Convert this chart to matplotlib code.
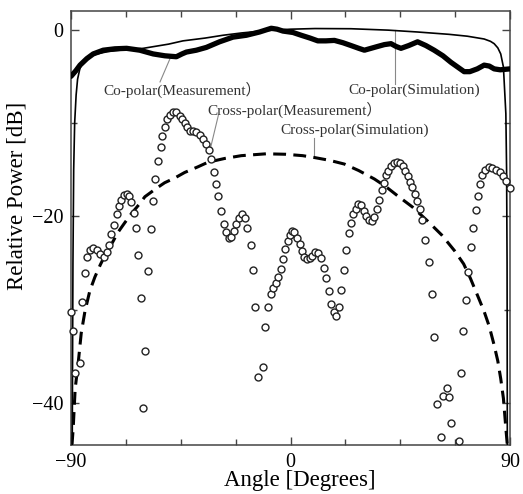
import numpy as np
import matplotlib
matplotlib.use("Agg")
import matplotlib.pyplot as plt
from matplotlib.ticker import FixedLocator

plt.rcParams['font.family'] = ['Liberation Serif', 'DejaVu Serif']
plt.rcParams['axes.unicode_minus'] = True

# ---------------- data ----------------
# Cross-polar (Measurement): angle [deg], relative power [dB]
xm_angle = [-90.0, -89.2, -88.4, -86.3, -85.4, -84.3, -83.3, -82.2, -80.9, -79.5,
            -78.2, -76.5, -75.4, -74.3, -73.4, -72.3, -71.3, -70.4, -69.3, -68.2,
            -67.2, -66.2, -65.2, -64.2, -63.4, -62.5, -61.4, -60.3, -59.5, -58.4,
            -57.3, -56.3, -55.4, -54.3, -53.2, -52.5, -51.6, -50.6, -49.5, -48.2,
            -46.8, -45.4, -44.5, -43.4, -42.3, -41.3, -40.0, -38.6, -37.2, -35.9,
            -34.5, -33.4, -32.4, -31.4, -30.4, -29.6, -28.4, -27.4, -26.6, -25.4,
            -24.3, -23.3, -22.2, -21.2, -19.8, -18.8, -17.7, -16.4, -15.3, -14.4,
            -13.4, -11.3, -10.3, -9.2, -8.2, -7.2, -6.1, -5.2, -4.1, -3.2,
            -2.2, -1.2, -0.2, 0.6, 1.6, 2.7, 3.7, 4.6, 5.7, 6.8,
            7.8, 8.9, 10.1, 11.2, 12.6, 13.6, 14.6, 15.7, 16.7, 17.7,
            18.7, 19.9, 20.8, 21.8, 22.8, 23.9, 24.8, 25.8, 26.9, 27.8,
            28.9, 30.0, 31.0, 32.3, 33.3, 34.4, 35.5, 36.4, 37.4, 38.2,
            39.2, 40.1, 41.2, 42.4, 43.8, 45.0, 46.0, 47.0, 48.0, 49.0,
            50.0, 51.0, 52.0, 53.0, 54.0, 55.0, 56.6, 58.0, 58.8, 60.0,
            61.9, 62.6, 64.0, 65.1, 65.7, 68.9, 69.8, 70.8, 71.9, 72.8,
            73.9, 74.8, 75.9, 76.8, 77.6, 78.7, 79.8, 81.2, 82.8, 84.4,
            85.8, 87.2, 88.5, 90.0]
xm_db = [-30.2, -32.3, -36.8, -35.7, -29.2, -26.1, -24.4, -23.6, -23.4, -23.6,
         -24.0, -24.4, -23.8, -23.1, -21.9, -20.9, -19.8, -18.9, -18.2, -17.7,
         -17.6, -17.8, -18.5, -19.6, -21.3, -24.1, -28.7, -40.5, -34.4, -25.9,
         -21.4, -18.4, -16.0, -14.1, -12.6, -11.4, -10.4, -9.6, -9.1, -8.8,
         -8.8, -9.2, -9.6, -10.0, -10.4, -10.9, -10.9, -11.0, -11.3, -11.7,
         -12.2, -12.9, -13.9, -15.2, -16.5, -17.8, -19.4, -20.8, -21.7, -22.3,
         -22.2, -21.6, -20.8, -20.2, -19.8, -20.2, -21.3, -23.1, -25.7, -29.7,
         -37.2, -36.1, -31.9, -29.7, -28.3, -27.7, -27.1, -26.5, -25.6, -24.6,
         -23.5, -22.6, -22.0, -21.6, -21.7, -22.3, -23.0, -23.7, -24.4, -24.6,
         -24.5, -24.2, -23.8, -23.9, -24.5, -25.5, -26.6, -28.0, -29.4, -30.3,
         -30.7, -29.7, -27.9, -25.7, -23.6, -21.8, -20.7, -19.8, -19.2, -18.7,
         -18.8, -19.4, -20.0, -20.4, -20.5, -20.1, -19.2, -18.2, -17.2, -16.4,
         -15.6, -15.1, -14.6, -14.3, -14.2, -14.3, -14.6, -15.1, -15.7, -16.3,
         -16.9, -17.6, -18.4, -19.2, -20.4, -22.5, -24.9, -28.3, -32.9, -40.1,
         -43.6, -39.3, -38.4, -39.4, -42.1, -44.1, -36.8, -32.3, -29.0, -26.0,
         -23.3, -21.2, -19.3, -17.8, -16.5, -15.6, -15.0, -14.7, -14.8, -15.0,
         -15.3, -15.7, -16.2, -17.0]

# Cross-polar (Simulation)
xs_angle = [-89.6, -89.1, -88.3, -87.0, -85.8, -84.3, -82.3, -80.2, -78.0, -76.1,
            -73.0, -70.7, -68.0, -65.2, -62.0, -59.7, -55.0, -51.6, -47.5, -43.4,
            -38.0, -33.8, -27.0, -20.2, -10.0, -2.0, 5.0, 9.8, 16.0, 22.1,
            28.0, 34.4, 39.0, 43.9, 50.0, 56.2, 62.0, 67.3, 71.0, 73.7,
            77.2, 79.4, 81.5, 83.5, 85.0, 86.2, 87.3, 88.3, 88.9]
xs_db = [-44.5, -42.7, -38.5, -35.6, -32.5, -30.2, -28.0, -26.5, -25.2, -24.2,
         -22.8, -21.7, -20.7, -19.7, -18.7, -17.9, -17.0, -16.4, -15.9, -15.3,
         -14.7, -14.2, -13.8, -13.5, -13.3, -13.35, -13.5, -13.7, -14.0, -14.4,
         -15.1, -16.0, -16.8, -17.8, -19.0, -20.5, -22.0, -23.7, -25.1, -26.6,
         -28.8, -30.2, -31.8, -33.8, -35.5, -37.4, -39.5, -42.7, -44.5]

# Co-polar (Measurement)
cm_angle = [-90.0, -88.0, -86.3, -83.5, -80.9, -76.8, -72.0, -67.2, -61.8, -56.3,
            -51.5, -46.8, -44.5, -42.7, -38.6, -34.5, -29.1, -23.6, -18.1, -12.7,
            -7.9, -5.5, -3.1, 1.0, 4.4, 8.0, 11.2, 14.5, 18.0, 21.5,
            24.8, 28.0, 30.3, 33.0, 35.7, 38.5, 41.2, 43.3, 45.3, 48.5,
            52.1, 55.5, 58.9, 62.5, 65.8, 68.5, 71.2, 73.5, 76.6, 79.4,
            81.5, 83.5, 86.0, 90.0]
cm_db = [-5.0, -4.4, -3.8, -3.1, -2.6, -2.2, -2.05, -2.0, -2.2, -2.6,
         -2.8, -2.9, -2.6, -2.4, -2.2, -1.9, -1.3, -0.8, -0.6, -0.25,
         0.15, 0.05, -0.15, -0.3, -0.6, -0.9, -1.2, -1.2, -1.15, -1.4,
         -1.7, -2.0, -2.2, -2.0, -1.8, -1.6, -1.5, -1.8, -2.0, -1.7,
         -1.3, -1.7, -2.2, -2.8, -3.5, -4.0, -4.5, -4.5, -4.2, -3.8,
         -3.9, -4.2, -4.3, -4.2]

# Co-polar (Simulation)
cs_angle = [-89.5, -89.2, -88.9, -88.5, -87.9, -87.3, -86.3, -84.5, -80.9, -75.0,
            -70.0, -60.4, -50.0, -44.1, -35.0, -27.7, -20.0, -10.0, 0.0, 10.0,
            24.8, 40.0, 52.1, 65.0, 72.5, 79.4, 82.0, 83.5, 85.0, 86.2,
            87.3, 87.8, 88.3, 88.6, 88.8, 88.9]
cs_db = [-44.5, -25.0, -15.0, -10.0, -7.0, -5.3, -4.1, -3.3, -2.7, -2.35,
         -2.2, -2.0, -1.55, -1.2, -0.9, -0.6, -0.35, -0.1, 0.05, 0.12,
         0.1, -0.05, -0.25, -0.5, -0.7, -1.0, -1.25, -1.5, -1.95, -2.6,
         -4.0, -6.5, -9.0, -15.0, -25.0, -44.5]

x_major = [-90, 0, 90]
x_minor = [-67.5, -45, -22.5, 22.5, 45, 67.5]
y_major = [0, -20, -40]
y_minor = [-10, -30]

# ---------------- figure ----------------
W, H = 523, 494
fig = plt.figure(figsize=(W / 100, H / 100), dpi=100)
ax = fig.add_axes([71 / W, 1 - 445 / H, 439 / W, 434 / H])

ax.plot(xs_angle, xs_db, color='black', lw=2.2, linestyle=(0, (4.2, 2.4)), zorder=2)
ax.plot(cs_angle, cs_db, color='black', lw=1.2, zorder=3)
ax.plot(cm_angle, cm_db, color='black', lw=3.8, solid_joinstyle='round',
        solid_capstyle='round', zorder=4)
ax.plot(xm_angle, xm_db, linestyle='none', marker='o', ms=5.0, mfc='white',
        mec='#222222', mew=1.0, zorder=5, clip_on=False)

ax.set_xlim(-90, 90)
ax.set_ylim(-44.5, 2)

ax.xaxis.set_major_locator(FixedLocator(x_major))
ax.xaxis.set_minor_locator(FixedLocator(x_minor))
ax.yaxis.set_major_locator(FixedLocator(y_major))
ax.yaxis.set_minor_locator(FixedLocator(y_minor))
ax.set_xticklabels([str(v).replace('-', '\u2212') for v in x_major])
ax.set_yticklabels([str(v).replace('-', '\u2212') for v in y_major])

ax.tick_params(which='both', direction='in', top=True, right=True,
               color='#444444', width=1.0)
ax.tick_params(which='major', length=5.5, labelsize=14.5, pad=5.5)
ax.tick_params(which='minor', length=4.5)
for sp in ax.spines.values():
    sp.set_color('#444444')
    sp.set_linewidth(1.1)

ax.set_xlabel('Angle [Degrees]', fontsize=16.5)
ax.set_ylabel('Relative Power [dB]', fontsize=16.5)
ax.xaxis.set_label_coords(0.522, -0.058)
ax.yaxis.set_label_coords(-0.098, 0.574)

# annotations
tcol = '#333333'
lcol = '#888888'
fam = ['Liberation Serif', 'Noto Sans CJK JP']
ax.text(-76.9, -6.5, 'Co-polar(Measurement\uff09', fontsize=11, color=tcol,
        ha='left', va='center', family=fam, zorder=6)
ax.plot([-53.5, -49.4], [-5.6, -3.1], color=lcol, lw=0.8, zorder=1)

ax.text(23.6, -6.5, 'Co-polar(Simulation)', fontsize=11, color=tcol,
        ha='left', va='center', family=fam, zorder=6)
ax.plot([42.8, 42.8], [-5.85, -0.05], color=lcol, lw=0.8, zorder=1)

ax.text(-34.2, -8.6, 'Cross-polar(Measurement\uff09', fontsize=11, color=tcol,
        ha='left', va='center', family=fam, zorder=6)
ax.plot([-33.0, -29.6], [-12.9, -9.2], color=lcol, lw=0.8, zorder=1)

ax.text(-4.3, -10.8, 'Cross-polar(Simulation)', fontsize=11, color=tcol,
        ha='left', va='center', family=fam, zorder=6)
ax.plot([9.6, 9.6], [-11.6, -13.6], color=lcol, lw=0.8, zorder=1)

fig.savefig('out.png', dpi=100)
